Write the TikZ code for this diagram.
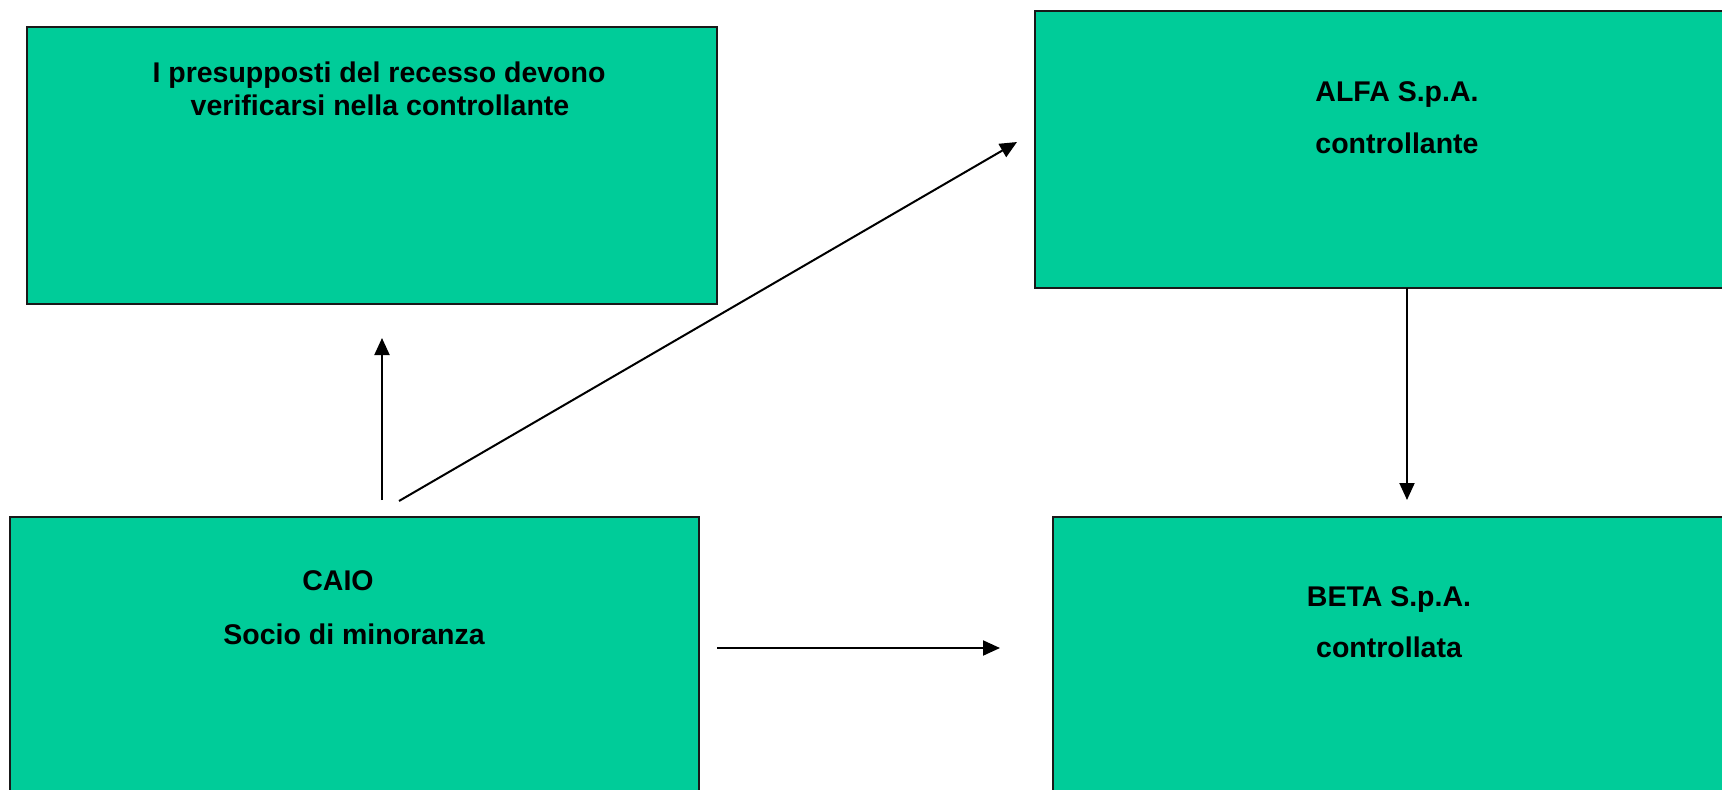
\documentclass[tikz,border=0pt]{standalone}
\usepackage{fontspec}
\setmainfont{Liberation Sans}
\usetikzlibrary{arrows.meta}
\definecolor{boxgreen}{RGB}{0,204,153}
\tikzset{
  box/.style={draw=black!90, line width=2pt, fill=boxgreen, inner sep=0pt},
  lbl/.style={anchor=base, inner sep=0pt, font=\fontsize{28.5}{33}\selectfont\bfseries},
  conn/.style={line width=2pt, -{Triangle[length=17pt,width=15pt]}},
}
\begin{document}
\begin{tikzpicture}[x=1pt,y=-1pt]
\useasboundingbox[fill=white] (0,0) rectangle (1722,790);
% boxes
\draw[box] (27,27) rectangle (717,304);
\draw[box] (1035,11) rectangle (1740,288);
\draw[box] (10,517) rectangle (699,810);
\draw[box] (1053,517) rectangle (1740,810);
\node[box, draw=none, fill=none, minimum width=690pt, minimum height=277pt] (presupposti) at (372,165.5) {};
\node[box, draw=none, fill=none, minimum width=705pt, minimum height=277pt] (alfa) at (1387.5,149.5) {};
\node[box, draw=none, fill=none, minimum width=689pt, minimum height=293pt] (caio) at (354.5,663.5) {};
\node[box, draw=none, fill=none, minimum width=687pt, minimum height=293pt] (beta) at (1396.5,663.5) {};
% texts
\node[lbl] (t1) at (379,82) {I presupposti del recesso devono};
\node[lbl] (t2) at (380,115) {verificarsi nella controllante};
\node[lbl] (t3) at (1397,101) {ALFA S.p.A.};
\node[lbl] (t4) at (1397,153) {controllante};
\node[lbl] (t5) at (338,590) {CAIO};
\node[lbl] (t6) at (354,644) {Socio di minoranza};
\node[lbl] (t7) at (1389,606) {BETA S.p.A.};
\node[lbl] (t8) at (1389,657) {controllata};
% connectors
\coordinate (upS) at (382,500);
\coordinate (upE) at (382,338);
\coordinate (diS) at (399,501);
\coordinate (diE) at (1017,142);
\coordinate (hS) at (717,648);
\coordinate (hE) at (1000,648);
\coordinate (dS) at (1407,288);
\coordinate (dE) at (1407,500);
\draw[conn] (upS) -- (upE);
\draw[conn] (diS) -- (diE);
\draw[conn] (hS) -- (hE);
\draw[conn] (dS) -- (dE);
\end{tikzpicture}
\end{document}
